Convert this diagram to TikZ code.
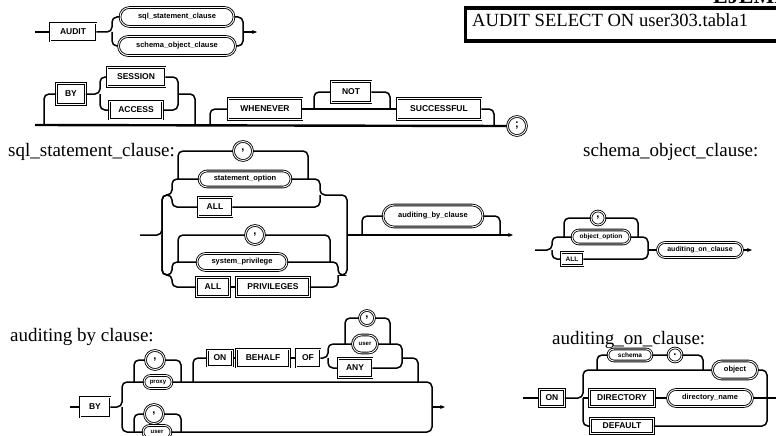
\documentclass[tikz,border=0pt]{standalone}
\usepackage{fontspec}
\setmainfont{Liberation Serif}
\newfontfamily\kwfont{Liberation Sans}
\usetikzlibrary{shapes.misc,arrows.meta}
\begin{document}
\begin{tikzpicture}[x=1pt,y=-1pt,
  conn/.style={line width=1.5pt, rounded corners=5pt},
  mainln/.style={line width=2.4pt},
  kw/.style={draw, line width=0.85pt, double=white, double distance=0.9pt, rectangle, inner sep=0pt, font=\kwfont\bfseries\fontsize{8.5}{9}\selectfont},
  nt/.style={draw, line width=0.85pt, double=white, double distance=0.9pt, rounded rectangle, inner sep=0pt, font=\kwfont\bfseries\fontsize{7.5}{8}\selectfont},
  pc/.style={draw, line width=0.85pt, double=white, double distance=0.9pt, circle, inner sep=0pt, minimum size=19pt, font=\kwfont\bfseries\fontsize{11}{11}\selectfont},
  lbl/.style={anchor=base west, inner sep=0pt, font=\fontsize{19}{22}\selectfont},
  endarrow/.style={-{Stealth[length=5pt,width=4pt]}}
]
\useasboundingbox (0,0) rectangle (776,436);

% ---------- example box ----------
\node[anchor=base west, inner sep=0pt, font=\bfseries\fontsize{22}{24}\selectfont] (ej) at (713,4) {EJEMPLO};
\node[draw, line width=3.2pt, anchor=north west, minimum width=340pt, minimum height=33pt, inner sep=0pt] (ex) at (463.5,6.5) {};
\node[anchor=base west, inner sep=0pt, font=\fontsize{18.6}{20}\selectfont] (extext) at (472,27) {AUDIT SELECT ON user303.tabla1};

% ---------- diagram 1 ----------
\coordinate (s1) at (35,32);
\node[kw, minimum width=46pt, minimum height=18pt] (audit) at (73,32) {AUDIT};
\coordinate (b1a) at (112,32);
\node[nt, minimum width=114pt, minimum height=19pt] (sqlc) at (177,17) {sql\_statement\_clause};
\node[nt, minimum width=117pt, minimum height=19pt] (schc) at (177,46) {schema\_object\_clause};
\coordinate (r1a) at (243,32);
\coordinate (e1) at (257,32);
\draw[conn] (s1) -- (audit.west);
\draw[conn] (audit.east) -- (b1a) |- (sqlc.west);
\draw[conn] (b1a) |- (schc.west);
\draw[conn] (sqlc.east) -| (r1a);
\draw[conn] (schc.east) -| (r1a);
\draw[conn, endarrow] (r1a) -- (e1);

% ---------- diagram 2 ----------
\coordinate (m0) at (35,125);
\coordinate (m1) at (44,125);
\coordinate (m2) at (195,125);
\coordinate (m3) at (210,125);
\coordinate (m4) at (494,125);
\node[pc] (semi) at (517,126) {;};
\draw[mainln] (m0) -- (semi.west);
\node[kw, minimum width=29pt, minimum height=21pt] (by) at (71,94) {BY};
\coordinate (bb2) at (100,94);
\node[kw, minimum width=58pt, minimum height=19pt] (session) at (136,77) {SESSION};
\node[kw, minimum width=53pt, minimum height=18pt] (access) at (136,110) {ACCESS};
\coordinate (rb2) at (178,94);
\draw[conn] (m1) |- (by.west);
\draw[conn] (by.east) -- (bb2) |- (session.west);
\draw[conn] (bb2) |- (access.west);
\draw[conn] (session.east) -| (rb2);
\draw[conn] (access.east) -| (rb2);
\draw[conn] (rb2) -| (m2);
\node[kw, minimum width=74pt, minimum height=21pt] (whenever) at (265,109) {WHENEVER};
\node[kw, minimum width=40pt, minimum height=21pt] (not) at (351,92) {NOT};
\node[kw, minimum width=84pt, minimum height=21pt] (successful) at (439,109) {SUCCESSFUL};
\coordinate (n1) at (314,109);
\coordinate (n2) at (390,109);
\draw[conn] (m3) |- (whenever.west);
\draw[conn] (whenever.east) -- (successful.west);
\draw[conn] (n1) |- (not.west);
\draw[conn] (not.east) -| (n2);
\draw[conn] (successful.east) -| (m4);

% ---------- labels ----------
\node[lbl] (t1) at (8,156) {sql\_statement\_clause:};
\node[lbl] (t2) at (583,156) {schema\_object\_clause:};
\node[lbl] (t3) at (10,341) {auditing by clause:};
\node[lbl] (t4) at (552,344) {auditing\_on\_clause:};

% ---------- diagram 3: sql_statement_clause ----------
\coordinate (s3) at (140,235);
\coordinate (ob3) at (162,235);
\coordinate (b31) at (172,195);
\coordinate (b32) at (172,275);
\node[nt, minimum width=92pt, minimum height=16pt] (stmt) at (245,179) {statement\_option};
\node[kw, minimum width=34pt, minimum height=19pt] (all1) at (215,207) {ALL};
\node[pc] (c1) at (243,151) {,};
\coordinate (l1l) at (178,179);
\coordinate (l1r) at (308,179);
\coordinate (r31) at (320,195);
\coordinate (obr3) at (347,235);
\draw[conn] (s3) -- (ob3) |- (b31) |- (stmt.west);
\draw[conn] (ob3) |- (b31) |- (all1.west);
\draw[conn] (stmt.east) -| (r31) -| (obr3);
\draw[conn] (all1.east) -| (r31);
\draw[conn] (l1r) |- (c1.east);
\draw[conn] (c1.west) -| (l1l);

\node[pc] (c2) at (255,235) {,};
\node[nt, minimum width=90pt, minimum height=17pt] (sysp) at (242,262) {system\_privilege};
\node[kw, minimum width=33pt, minimum height=19pt] (all2) at (213,287) {ALL};
\node[kw, minimum width=73pt, minimum height=19pt] (priv) at (273,287) {PRIVILEGES};
\coordinate (l2l) at (178,262);
\coordinate (l2r) at (330,262);
\coordinate (r32) at (338,275);
\draw[conn] (ob3) |- (b32) |- (sysp.west);
\draw[conn] (ob3) |- (b32) |- (all2.west);
\draw[conn] (all2) -- (priv);
\draw[conn] (sysp.east) -| (r32) -| (obr3);
\draw[conn] (priv.east) -| (r32);
\draw[conn] (l2r) |- (c2.east);
\draw[conn] (c2.west) -| (l2l);

\coordinate (a1) at (362,235);
\coordinate (a2) at (500,235);
\coordinate (e3) at (513,235);
\node[nt, minimum width=100pt, minimum height=22pt] (abc) at (433,216) {auditing\_by\_clause};
\draw[conn, endarrow] (obr3) -- (e3);
\draw[conn] (a1) |- (abc.west);
\draw[conn] (abc.east) -| (a2);

% ---------- diagram 3b: schema_object_clause ----------
\coordinate (s4) at (535,250);
\coordinate (b4) at (552,250);
\node[pc, minimum size=14pt] (c3) at (598,218) {,};
\node[nt, minimum width=58pt, minimum height=14pt, font=\kwfont\bfseries\fontsize{6.5}{7}\selectfont] (objopt) at (601,237) {object\_option};
\node[kw, minimum width=22pt, minimum height=13pt, font=\kwfont\bfseries\fontsize{6.5}{7}\selectfont] (all3) at (572,259) {ALL};
\coordinate (l3l) at (564,237);
\coordinate (l3r) at (638,237);
\coordinate (r4) at (648,250);
\node[nt, minimum width=85pt, minimum height=15pt, font=\kwfont\bfseries\fontsize{7}{8}\selectfont] (aoc) at (700,250) {auditing\_on\_clause};
\coordinate (e4) at (752,250);
\draw[conn] (s4) -- (b4) |- (objopt.west);
\draw[conn] (b4) |- (all3.west);
\draw[conn] (objopt.east) -| (r4);
\draw[conn] (all3.east) -| (r4);
\draw[conn] (r4) -- (aoc.west);
\draw[conn, endarrow] (aoc.east) -- (e4);
\draw[conn] (l3r) |- (c3.east);
\draw[conn] (c3.west) -| (l3l);

% ---------- diagram 4: auditing by clause ----------
\coordinate (s5) at (70,407);
\node[kw, minimum width=30pt, minimum height=20pt] (by2) at (95,407) {BY};
\coordinate (b5) at (122,407);
\node[pc] (c4) at (155,360) {,};
\node[nt, minimum width=28pt, minimum height=13pt, font=\kwfont\bfseries\fontsize{6}{7}\selectfont] (proxy) at (158,382) {proxy};
\coordinate (l4l) at (134,382);
\coordinate (l4r) at (181,382);
\node[pc] (c5) at (154,414) {,};
\node[nt, minimum width=28pt, minimum height=13pt, font=\kwfont\bfseries\fontsize{6}{7}\selectfont] (user2) at (157,432) {user};
\coordinate (l5l) at (134,432);
\coordinate (l5r) at (181,432);
\coordinate (rb5) at (432,407);
\coordinate (e5) at (445,407);
\draw[conn] (s5) -- (by2.west);
\draw[conn] (by2.east) -- (b5) |- (proxy.west);
\draw[conn] (b5) |- (user2.west);
\draw[conn] (proxy.east) -| (rb5);
\draw[conn] (user2.east) -| (rb5);
\draw[conn, endarrow] (rb5) -- (e5);
\draw[conn] (l4r) |- (c4.east);
\draw[conn] (c4.west) -| (l4l);
\draw[conn] (l5r) |- (c5.east);
\draw[conn] (c5.west) -| (l5l);

\coordinate (j1) at (193,382);
\node[kw, minimum width=25pt, minimum height=16pt] (on1) at (220,358) {ON};
\node[kw, minimum width=53pt, minimum height=18pt] (behalf) at (263,358) {BEHALF};
\node[kw, minimum width=24pt, minimum height=18pt] (of) at (308,358) {OF};
\coordinate (cb) at (328,358);
\node[pc, minimum size=15pt] (c6) at (367,318) {,};
\node[nt, minimum width=25pt, minimum height=18pt, font=\kwfont\bfseries\fontsize{6}{7}\selectfont] (user1) at (365,344) {user};
\node[kw, minimum width=34pt, minimum height=19pt] (any) at (355,368) {ANY};
\coordinate (l6l) at (345,344);
\coordinate (l6r) at (390,344);
\coordinate (cr) at (402,358);
\coordinate (j2) at (418,382);
\draw[conn] (j1) |- (on1.west);
\draw[conn] (on1) -- (behalf);
\draw[conn] (behalf) -- (of);
\draw[conn] (of.east) -- (cb) |- (user1.west);
\draw[conn] (cb) |- (any.west);
\draw[conn] (user1.east) -| (cr);
\draw[conn] (any.east) -| (cr);
\draw[conn] (cr) -| (j2);
\draw[conn] (l6r) |- (c6.east);
\draw[conn] (c6.west) -| (l6l);

% ---------- diagram 4b: auditing_on_clause ----------
\coordinate (s6) at (523,398);
\node[kw, minimum width=25pt, minimum height=17pt] (on2) at (552,398) {ON};
\coordinate (b6) at (583,398);
\coordinate (q1) at (597,370);
\node[nt, minimum width=44pt, minimum height=12pt, font=\kwfont\bfseries\fontsize{6.5}{7}\selectfont] (schema) at (630,355) {schema};
\node[pc, minimum size=14pt] (dot) at (675,355) {.};
\coordinate (q2) at (703,370);
\node[nt, minimum width=45pt, minimum height=18pt] (object) at (735,370) {object};
\node[kw, minimum width=65pt, minimum height=17pt] (directory) at (622,398) {DIRECTORY};
\node[nt, minimum width=85pt, minimum height=17pt] (dirname) at (710,398) {directory\_name};
\node[kw, minimum width=63pt, minimum height=15pt] (default) at (622,426) {DEFAULT};
\coordinate (rb6) at (767,398);
\coordinate (e6) at (776,398);
\draw[conn] (s6) -- (on2.west);
\draw[conn] (on2.east) -- (b6) |- (object.west);
\draw[conn] (q1) |- (schema.west);
\draw[conn] (schema) -- (dot);
\draw[conn] (dot.east) -| (q2);
\draw[conn] (b6) -- (directory.west);
\draw[conn] (directory) -- (dirname);
\draw[conn] (dirname.east) -- (e6);
\draw[conn] (b6) |- (default.west);
\draw[conn] (default.east) -| (rb6);
\draw[conn] (object.east) -| (rb6);
\end{tikzpicture}
\end{document}
